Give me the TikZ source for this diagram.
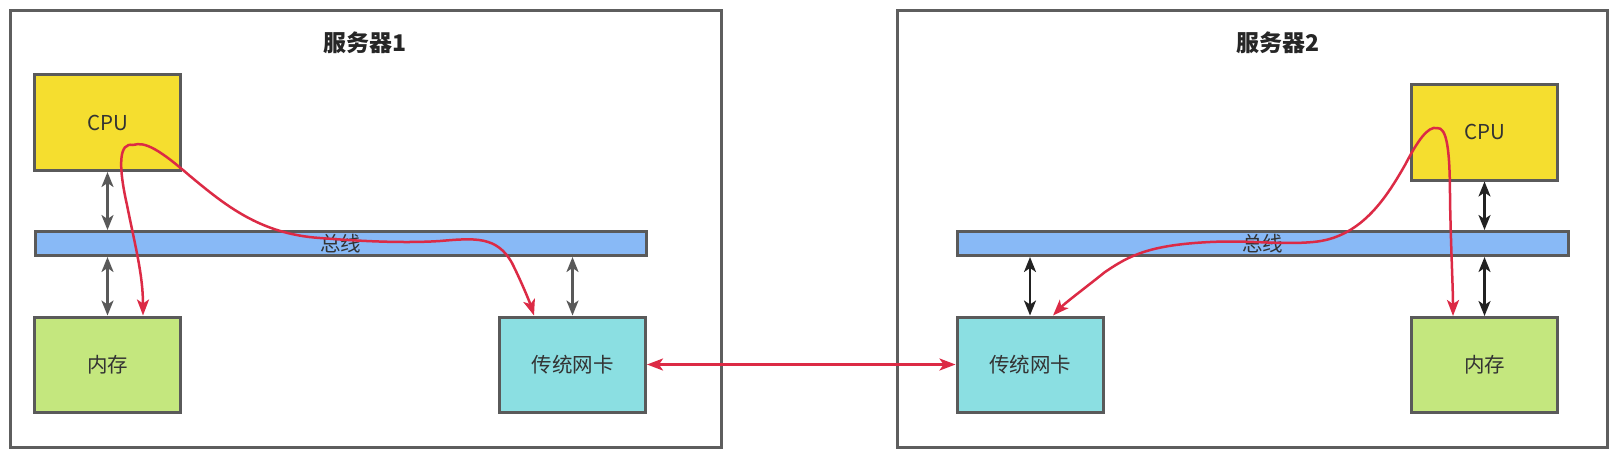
\documentclass[tikz,border=0pt]{standalone}
\usepackage{fontspec}
\newfontfamily\cjk{Noto Sans CJK SC}
\usetikzlibrary{arrows.meta}
\definecolor{framegray}{HTML}{5E5E5E}
\definecolor{boxgray}{HTML}{5A5A5A}
\definecolor{cpuyellow}{HTML}{F5DE2F}
\definecolor{busblue}{HTML}{88B9F6}
\definecolor{memgreen}{HTML}{C4E77E}
\definecolor{niccyan}{HTML}{8BDFE2}
\definecolor{flowred}{HTML}{DC2A45}
\definecolor{txt}{HTML}{333333}
\definecolor{linkgray}{HTML}{595959}
\definecolor{linkdark}{HTML}{222222}
\tikzset{
  x=1pt, y=-1pt,
  serverframe/.style={draw=framegray, line width=3pt},
  unit/.style={draw=boxgray, line width=3pt, inner sep=0pt, outer sep=1.5pt,
    font=\cjk\fontsize{20.5}{24}\selectfont, text=txt},
  cpubox/.style={unit, fill=cpuyellow, minimum width=146pt, minimum height=96pt},
  membox/.style={unit, fill=memgreen, minimum width=146pt, minimum height=95pt},
  nicbox/.style={unit, fill=niccyan, minimum width=146pt, minimum height=95pt},
  busbar/.style={unit, fill=busblue, minimum width=611pt, minimum height=24pt},
  titletext/.style={font=\cjk\bfseries\fontsize{23}{27}\selectfont, text=black!85},
  dlink/.style={line width=2.3pt, {Stealth[length=15pt,width=12pt,inset=4pt]}-{Stealth[length=15pt,width=12pt,inset=4pt]}},
  flow/.style={draw=flowred, line width=2.5pt, -{Stealth[length=16pt,width=12pt,inset=4pt]}},
  flowboth/.style={draw=flowred, line width=2.5pt, {Stealth[length=16pt,width=12pt,inset=4pt]}-{Stealth[length=16pt,width=12pt,inset=4pt]}}
}
\begin{document}
\begin{tikzpicture}
\useasboundingbox (0,0) rectangle (1621,459);
\fill[white] (0,0) rectangle (1621,459);

% server frames
\draw[serverframe] (10.5,10.5) rectangle (721.5,447.5);
\draw[serverframe] (897.5,10.5) rectangle (1607.5,447.5);
\node[titletext] (t1) at (365,43) {服务器1};
\node[titletext] (t2) at (1278,43) {服务器2};

% server 1
\node[cpubox] (cpu1) at (107.5,122.5) {CPU};
\node[busbar] (bus1) at (340.5,243.5) {总线};
\node[membox] (mem1) at (107.5,364.5) {内存};
\node[nicbox] (nic1) at (572.5,364.5) {传统网卡};

% server 2
\node[cpubox] (cpu2) at (1484.5,132) {CPU};
\node[busbar] (bus2) at (1262.5,243.5) {总线};
\node[nicbox] (nic2) at (1030,364.5) {传统网卡};
\node[membox] (mem2) at (1484.5,365) {内存};

% bus links
\draw[dlink, linkgray] (cpu1.south) -- (cpu1.south |- bus1.north);
\draw[dlink, linkgray] (mem1.north) -- (mem1.north |- bus1.south);
\draw[dlink, linkgray] (nic1.north) -- (nic1.north |- bus1.south);
\draw[dlink, linkdark] (cpu2.south) -- (cpu2.south |- bus2.north);
\draw[dlink, linkdark] (mem2.north) -- (mem2.north |- bus2.south);
\draw[dlink, linkdark] (nic2.north) -- (nic2.north |- bus2.south);

% network link
\draw[flowboth] (nic1.east) -- (nic2.west);

% data flows server 1
\coordinate (p1) at (133,145);
\draw[flow] (p1) .. controls (119,142) and (118,165) .. (127,205)
  .. controls (135,245) and (143,275) .. ([xshift=35.5pt]mem1.north);
\draw[flow] (p1) .. controls (145,141) and (160,150) .. (190,176)
  .. controls (225,205) and (260,234) .. (320,238)
  .. controls (370,242) and (410,243) .. (440,241)
  .. controls (475,238) and (497,236) .. (512,263)
  .. controls (522,283) and (530,303) .. ([xshift=-38.5pt]nic1.north);

% data flows server 2
\coordinate (p2) at (1437,128);
\draw[flow] (p2) .. controls (1447,127) and (1450,150) .. (1450,200)
  .. controls (1451,250) and (1453,290) .. ([xshift=-31.5pt]mem2.north);
\draw[flow] (p2) .. controls (1428,126) and (1418,140) .. (1405,165)
  .. controls (1385,200) and (1360,238) .. (1313,242)
  .. controls (1280,245) and (1250,240) .. (1210,242)
  .. controls (1150,245) and (1130,255) .. (1105,272)
  .. controls (1085,288) and (1065,303) .. ([xshift=23pt]nic2.north);
\end{tikzpicture}
\end{document}
